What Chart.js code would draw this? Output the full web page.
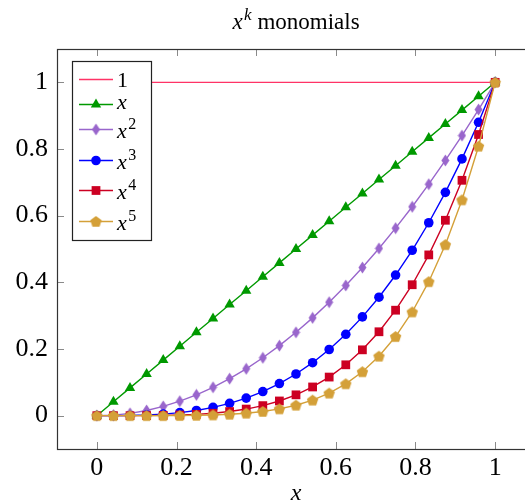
<!DOCTYPE html>
<html>
<head>
<meta charset="utf-8">
<script src="https://cdn.jsdelivr.net/npm/chart.js@4.4.0/dist/chart.umd.min.js"></script>
<style>
  html, body { margin: 0; padding: 0; background: #fff; overflow: hidden; }
  #wrap { width: 535px; height: 504px; }
</style>
</head>
<body>
<div id="wrap"><canvas id="monomials" width="535" height="504"></canvas></div>
<script>
// samples x = 0 .. 1 (25 points)
const xValues = [0, 0.0417, 0.0833, 0.125, 0.1667, 0.2083, 0.25, 0.2917, 0.3333, 0.375, 0.4167, 0.4583, 0.5,
  0.5417, 0.5833, 0.625, 0.6667, 0.7083, 0.75, 0.7917, 0.8333, 0.875, 0.9167, 0.9583, 1];
const ones = [1, 1, 1, 1, 1, 1, 1, 1, 1, 1, 1, 1, 1, 1, 1, 1, 1, 1, 1, 1, 1, 1, 1, 1, 1];
const linear = xValues;
const squares = [0, 0.0017, 0.0069, 0.0156, 0.0278, 0.0434, 0.0625, 0.0851, 0.1111, 0.1406, 0.1736, 0.2101, 0.25,
  0.2934, 0.3403, 0.3906, 0.4444, 0.5017, 0.5625, 0.6267, 0.6944, 0.7656, 0.8403, 0.9184, 1];
const cubes = [0, 0.0001, 0.0006, 0.002, 0.0046, 0.009, 0.0156, 0.0248, 0.037, 0.0527, 0.0723, 0.0963, 0.125,
  0.1589, 0.1985, 0.2441, 0.2963, 0.3554, 0.4219, 0.4962, 0.5787, 0.6699, 0.7703, 0.8801, 1];
const fourths = [0, 0, 0, 0.0002, 0.0008, 0.0019, 0.0039, 0.0072, 0.0123, 0.0198, 0.0301, 0.0441, 0.0625,
  0.0861, 0.1158, 0.1526, 0.1975, 0.2517, 0.3164, 0.3928, 0.4823, 0.5862, 0.7061, 0.8435, 1];
const fifths = [0, 0, 0, 0, 0.0001, 0.0004, 0.001, 0.0021, 0.0041, 0.0074, 0.0126, 0.0202, 0.0313,
  0.0466, 0.0675, 0.0954, 0.1317, 0.1783, 0.2373, 0.311, 0.4019, 0.5129, 0.6472, 0.8083, 1];

const seriesNames = ['1', 'x', 'x^2', 'x^3', 'x^4', 'x^5'];
const seriesValues = [ones, linear, squares, cubes, fourths, fifths];
const xTicks = [0, 0.2, 0.4, 0.6, 0.8, 1];
const xTickLabels = ['0', '0.2', '0.4', '0.6', '0.8', '1'];
const yTicks = [0, 0.2, 0.4, 0.6, 0.8, 1];
const yTickLabels = ['0', '0.2', '0.4', '0.6', '0.8', '1'];

const colors = ['#ff3366', '#009900', '#9966cc', '#0000ff', '#cc0022', '#d4a038'];
const serif = '"Liberation Serif", "DejaVu Serif", serif';

// custom marks: narrow diamond and pentagon
function makeDiamond(color) {
  const c = document.createElement('canvas');
  c.width = 9; c.height = 13;
  const g = c.getContext('2d');
  g.fillStyle = color;
  g.beginPath();
  g.moveTo(4.5, 0.5); g.lineTo(8.5, 6.5); g.lineTo(4.5, 12.5); g.lineTo(0.5, 6.5);
  g.closePath(); g.fill();
  return c;
}
function makePentagon(color) {
  const c = document.createElement('canvas');
  c.width = 13; c.height = 13;
  const g = c.getContext('2d');
  g.fillStyle = color;
  g.beginPath();
  for (let i = 0; i < 5; i++) {
    const a = -Math.PI / 2 + i * 2 * Math.PI / 5;
    const px = 6.5 + 6 * Math.cos(a), py = 7 + 6 * Math.sin(a);
    if (i === 0) g.moveTo(px, py); else g.lineTo(px, py);
  }
  g.closePath(); g.fill();
  return c;
}

const markers = [false, 'triangle', makeDiamond(colors[2]), 'circle', 'rect', makePentagon(colors[5])];
const markerRadius = [0, 6, 5, 4.8, 6.2, 6];

const datasets = seriesValues.map((vals, i) => ({
  label: seriesNames[i],
  data: xValues.map((x, j) => ({ x: x, y: vals[j] })),
  borderColor: colors[i],
  backgroundColor: colors[i],
  borderWidth: 1.4,
  pointStyle: markers[i],
  pointRadius: i === 0 ? 0 : markerRadius[i],
  pointBorderWidth: 0,
  pointHoverRadius: i === 0 ? 0 : markerRadius[i],
  tension: 0,
  order: seriesValues.length - i
}));

function drawMarker(ctx, style, r, x, y, color) {
  ctx.fillStyle = color;
  if (!style) return;
  if (style instanceof HTMLCanvasElement) {
    ctx.drawImage(style, x - style.width / 2, y - style.height / 2);
    return;
  }
  ctx.beginPath();
  if (style === 'circle') {
    ctx.arc(x, y, r, 0, Math.PI * 2);
  } else if (style === 'rect') {
    const s = r * Math.SQRT1_2;
    ctx.rect(x - s, y - s, 2 * s, 2 * s);
  } else if (style === 'triangle') {
    let a = 0;
    ctx.moveTo(x + Math.sin(a) * r, y - Math.cos(a) * r);
    a += 2 * Math.PI / 3;
    ctx.lineTo(x + Math.sin(a) * r, y - Math.cos(a) * r);
    a += 2 * Math.PI / 3;
    ctx.lineTo(x + Math.sin(a) * r, y - Math.cos(a) * r);
    ctx.closePath();
  }
  ctx.fill();
}

// draws "x", "x^n" or plain text starting at x, returns end x
function drawMath(ctx, label, x, baseline, size) {
  ctx.fillStyle = '#000';
  ctx.textBaseline = 'alphabetic';
  ctx.textAlign = 'left';
  if (label[0] !== 'x') {
    ctx.font = size + 'px ' + serif;
    ctx.fillText(label, x, baseline);
    return x + ctx.measureText(label).width;
  }
  ctx.font = 'italic ' + size + 'px ' + serif;
  ctx.fillText('x', x, baseline);
  let end = x + ctx.measureText('x').width;
  const parts = label.split('^');
  if (parts[1]) {
    const sup = parts[1];
    const supSize = Math.round(size * 0.72);
    ctx.font = (/[a-z]/.test(sup) ? 'italic ' : '') + supSize + 'px ' + serif;
    ctx.fillText(sup, end + 1.5, baseline - size * 0.4);
    end += 1.5 + ctx.measureText(sup).width;
  }
  return end;
}

const decorations = {
  id: 'decorations',
  afterDraw(chart) {
    const { ctx, chartArea: a, scales } = chart;
    const sx = scales.x, sy = scales.y;
    ctx.save();

    // inner tick marks
    ctx.strokeStyle = '#8a8a8a';
    ctx.lineWidth = 1;
    ctx.beginPath();
    xTicks.forEach(v => {
      const px = Math.round(sx.getPixelForValue(v)) + 0.5;
      ctx.moveTo(px, a.bottom); ctx.lineTo(px, a.bottom - 7);
      ctx.moveTo(px, a.top); ctx.lineTo(px, a.top + 7);
    });
    yTicks.forEach(v => {
      const py = Math.round(sy.getPixelForValue(v)) + 0.5;
      ctx.moveTo(a.left, py); ctx.lineTo(a.left + 7, py);
      ctx.moveTo(a.right, py); ctx.lineTo(a.right - 7, py);
    });
    ctx.stroke();

    // axis frame
    ctx.strokeStyle = '#333';
    ctx.lineWidth = 1.2;
    ctx.strokeRect(a.left + 0.5, a.top + 0.5, a.right - a.left, a.bottom - a.top);

    // legend box
    const lx = 72.5, ly = 61.5, lw = 79, lh = 179;
    ctx.fillStyle = '#fff';
    ctx.fillRect(lx, ly, lw, lh);
    ctx.strokeStyle = '#222';
    ctx.lineWidth = 1.2;
    ctx.strokeRect(lx, ly, lw, lh);
    const rows = [18, 43, 68, 99, 129, 160];
    const baselineShift = [7, 4, 8, 8, 8, 8];
    datasets.forEach((ds, i) => {
      const y = ly + rows[i];
      ctx.strokeStyle = ds.borderColor;
      ctx.lineWidth = 1.4;
      ctx.beginPath();
      ctx.moveTo(79, y); ctx.lineTo(113, y);
      ctx.stroke();
      drawMarker(ctx, ds.pointStyle, ds.pointRadius, 96, y, ds.borderColor);
      drawMath(ctx, ds.label, 117, y + baselineShift[i], 22);
    });

    // title: x^k monomials
    const ts = 23;
    ctx.font = ts + 'px ' + serif;
    const restW = ctx.measureText(' monomials').width;
    ctx.font = 'italic ' + ts + 'px ' + serif;
    const xW = ctx.measureText('x').width;
    ctx.font = 'italic ' + Math.round(ts * 0.72) + 'px ' + serif;
    const kW = ctx.measureText('k').width;
    const tw = xW + 1.5 + kW + restW;
    const tx = (a.left + a.right) / 2 - tw / 2;
    const end = drawMath(ctx, 'x^k', tx, 29, ts);
    ctx.font = ts + 'px ' + serif;
    ctx.fillText(' monomials', end, 29);

    // x axis label
    ctx.font = 'italic 24px ' + serif;
    ctx.textAlign = 'center';
    ctx.fillText('x', (a.left + a.right) / 2, 500);
    ctx.restore();
  }
};

new Chart(document.getElementById('monomials'), {
  type: 'line',
  data: { datasets: datasets },
  options: {
    responsive: false,
    animation: false,
    layout: { autoPadding: false, padding: { top: 49, left: 0, right: 0, bottom: 0 } },
    plugins: {
      legend: { display: false },
      title: { display: false },
      tooltip: { enabled: false }
    },
    scales: {
      x: {
        type: 'linear',
        min: -0.1,
        max: 1.1,
        grid: { display: false, drawTicks: false },
        border: { display: false },
        afterBuildTicks: s => { s.ticks = xTicks.map(v => ({ value: v })); },
        afterFit: s => { s.height = 55; },
        ticks: {
          padding: 4,
          color: '#000',
          maxRotation: 0,
          font: { family: serif, size: 26 },
          callback: (v) => xTickLabels[xTicks.indexOf(v)]
        }
      },
      y: {
        type: 'linear',
        min: -0.1,
        max: 1.1,
        grid: { display: false, drawTicks: false },
        border: { display: false },
        afterBuildTicks: s => { s.ticks = yTicks.map(v => ({ value: v })); },
        afterFit: s => { s.width = 57; },
        ticks: {
          padding: 9,
          color: '#000',
          font: { family: serif, size: 26 },
          callback: (v) => yTickLabels[yTicks.indexOf(v)]
        }
      }
    }
  },
  plugins: [decorations]
});
</script>
</body>
</html>
